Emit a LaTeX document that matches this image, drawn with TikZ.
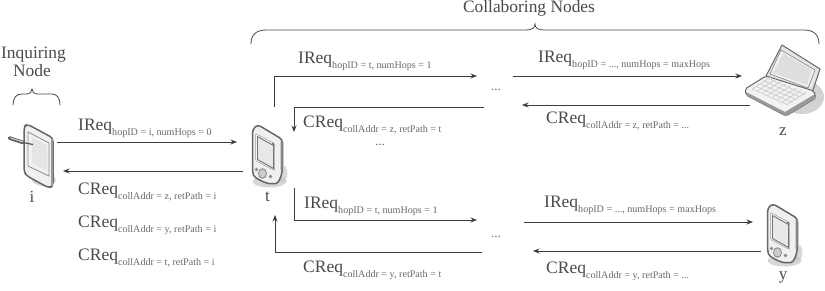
\documentclass[tikz,border=0pt]{standalone}
\usepackage{fontspec}
\setmainfont{Liberation Serif}
\usetikzlibrary{arrows.meta,calc}
\definecolor{ink}{HTML}{4A4A4A}
\definecolor{subink}{HTML}{6A6A6A}
\definecolor{wire}{HTML}{3C3C3C}
\newcommand{\msg}[3]{{\fontsize{17.5}{19}\selectfont #1}\raisebox{-5pt}{\fontsize{10.1}{12}\selectfont\color{subink} #2, #3}}
\tikzset{
  x=1pt,y=-1pt,
  wirepath/.style={draw=wire,line width=0.9pt,-{Stealth[length=6.5pt,width=5pt]}},
  msglabel/.style={anchor=base west,inner sep=0pt,text=ink},
  devlabel/.style={anchor=center,inner sep=0pt,text=ink,font=\fontsize{17}{19}\selectfont},
  headlabel/.style={anchor=base,inner sep=0pt,text=ink,font=\fontsize{17.4}{19}\selectfont},
  dots/.style={anchor=center,inner sep=0pt,text=subink,font=\fontsize{13}{14}\selectfont},
  bracket/.style={draw=ink,line width=0.8pt,line cap=round},
  casing/.style={draw=black!60,line width=1.5pt,fill=black!6,rounded corners=3.5pt,line join=round},
  softshadow/.style={fill=black!22,draw=none},
  pics/handheld/.style={code={
    % drop shadow behind the lower right corner
    \fill[softshadow,opacity=.7] (17,57) ellipse[x radius=17,y radius=6];
    \fill[softshadow,opacity=.7] (29,49) ellipse[x radius=6,y radius=9];
    % casing
    \draw[casing] (0,5) -- (5,0) -- (30,15) -- (30,43) .. controls (29,52) and (26,59) .. (20,59)
       .. controls (14,59) and (2,54) .. (0,47) -- cycle;
    \fill[black!45] (28,17) -- (30,15) -- (30,43) -- (28,46) -- cycle;
    \draw[draw=black!40,fill=black!3,line width=.5pt,rounded corners=1pt] (3,9) -- (22,19) -- (22,46) -- (3,36) -- cycle;
    \draw[draw=black!55,fill=black!9,line width=.9pt] (5,12) -- (21,21) -- (21,44) -- (5,35) -- cycle;
    \fill[black!55] (20.5,19.5) circle[radius=1.3];
    % keys
    \draw[draw=black!55,fill=black!20,line width=.6pt] (10,49) ellipse[x radius=4,y radius=4.8];
    \fill[black!45] (4,45) circle[radius=1.8];
    \fill[black!45] (18,52) circle[radius=1.8];
  }},
  pics/stylustablet/.style={code={
    \fill[softshadow,opacity=.7] (20,56) ellipse[x radius=12,y radius=6];
    \draw[casing] (0,3) -- (3,0) -- (29,14) -- (29,62) -- (25,64) -- (3,52) -- (0,48) -- cycle;
    \fill[black!40] (27,16) -- (29,14) -- (29,62) -- (27,62) -- cycle;
    \draw[draw=black!45,fill=black!5,line width=.8pt] (4,8) -- (25,19) -- (25,52) -- (4,42) -- cycle;
    \fill[black!10] (8,13) -- (23,21) -- (23,47) -- (8,39) -- cycle;
    % stylus resting on the screen
    \draw[black!65,line width=3.6pt,line cap=round] (-14.5,14) -- (-1,18.5);
    \draw[black!22,line width=1.2pt,line cap=round] (-13.5,14) -- (-1,18);
    \draw[black!65,line width=1.2pt] (-1,18.5) -- (9,20.5);
  }},
  pics/notebook/.style={code={
    % origin at the top corner of the lid
    \fill[softshadow,opacity=.8] (20,52) ellipse[x radius=22,y radius=17];
    % lid
    \draw[draw=black!60,fill=black!10,line width=1pt,line join=round] (0,0) -- (38,24) -- (30,48) -- (-16,31) -- cycle;
    \draw[draw=black!50,fill=black!5,line width=.6pt] (-1,5) -- (33,25) -- (26,43) -- (-12,29) -- cycle;
    \fill[black!13] (1,8) -- (30,25) -- (25,40) -- (-9,28) -- cycle;
    % base and keyboard
    \draw[draw=black!60,fill=black!5,line width=1pt,rounded corners=2pt,line join=round]
      (-16,31) -- (-37,44) -- (-36,50) -- (4,71) -- (34,53) -- (32,46) -- cycle;
    \fill[black!40] (-36,47) -- (3,67) -- (33,49) -- (34,53) -- (4,71) -- (-36,50) -- cycle;
    \foreach \r in {0,...,4}{
      \draw[black!20,line width=.7pt] ($(-30,44)+(\r*4.2,-\r*2.6)$) -- ($(-30,44)+(\r*4.2,-\r*2.6)+(36,16)$);
    }
    \foreach \c in {0,...,7}{
      \draw[black!20,line width=.7pt] ($(-30,44)+(\c*5,\c*2.2)$) -- ($(-30,44)+(\c*5,\c*2.2)+(19,-12)$);
    }
  }}
}
\begin{document}
\begin{tikzpicture}
\useasboundingbox (0,0) rectangle (825,290);
\clip (0,0) rectangle (825,290);
\fill[white] (0,0) rectangle (825,290);

% devices
\pic at (24,124) {stylustablet};
\pic at (252.5,124.5) {handheld};
\pic at (767.5,203.5) {handheld};
\pic at (782,45) {notebook};

% device names
\node[devlabel] (nodei) at (32,197) {i};
\node[devlabel] (nodet) at (267.5,197) {t};
\node[devlabel] (nodez) at (783,132) {z};
\node[devlabel] (nodey) at (783,277) {y};

% headings and braces
\node[headlabel] (inq1) at (33.5,58) {Inquiring};
\node[headlabel] (inq2) at (32,76) {Node};
\node[headlabel] (collab) at (529,12) {Collaboring Nodes};
\draw[bracket] (13,105) .. controls (13,98) and (16,94) .. (22,94) -- (27,94)
   .. controls (30,94) and (32,92) .. (32,89) .. controls (32,92) and (34,94) .. (37,94) -- (52,94)
   .. controls (57,94) and (60,98) .. (60,105);
\draw[bracket] (251,44) .. controls (251,35) and (256,30) .. (266,30) -- (526,30)
   .. controls (532,30) and (535,28) .. (535,24) .. controls (535,28) and (538,30) .. (544,30) -- (804,30)
   .. controls (814,30) and (819,35) .. (819,44);

% connector end points
\coordinate (iOut) at (57,142);   \coordinate (tIn) at (237,142);
\coordinate (tOut) at (243,171);  \coordinate (iIn) at (63,171);
\coordinate (a1) at (274,107);    \coordinate (a2) at (274,76);   \coordinate (a3) at (477,76);
\coordinate (b1) at (484,107);    \coordinate (b2) at (294,107);  \coordinate (b3) at (294,132);
\coordinate (c1) at (294,188);    \coordinate (c2) at (294,220);  \coordinate (c3) at (477,220);
\coordinate (d1) at (482,252);    \coordinate (d2) at (275,252);  \coordinate (d3) at (275,215);
\coordinate (e1) at (513,76);     \coordinate (e2) at (742,76);
\coordinate (f1) at (750,105);    \coordinate (f2) at (522,105);
\coordinate (g1) at (524,222);    \coordinate (g2) at (753,222);
\coordinate (h1) at (761,251);    \coordinate (h2) at (533,251);

% message arrows
\draw[wirepath] (iOut) -- (tIn);
\draw[wirepath] (tOut) -- (iIn);
\draw[wirepath] (a1) -- (a2) -- (a3);
\draw[wirepath] (b1) -- (b2) -- (b3);
\draw[wirepath] (c1) -- (c2) -- (c3);
\draw[wirepath] (d1) -- (d2) -- (d3);
\draw[wirepath] (e1) -- (e2);
\draw[wirepath] (f1) -- (f2);
\draw[wirepath] (g1) -- (g2);
\draw[wirepath] (h1) -- (h2);

% message labels
\node[msglabel] (m1) at (78,130) {\msg{IReq}{hopID = i}{numHops = 0}};
\node[msglabel] (m2) at (78,194) {\msg{CReq}{collAddr = z}{retPath = i}};
\node[msglabel] (m3) at (78,227) {\msg{CReq}{collAddr = y}{retPath = i}};
\node[msglabel] (m4) at (78,260) {\msg{CReq}{collAddr = t}{retPath = i}};
\node[msglabel] (m5) at (298,63) {\msg{IReq}{hopID = t}{numHops = 1}};
\node[msglabel] (m6) at (303,127) {\msg{CReq}{collAddr = z}{retPath = t}};
\node[msglabel] (m7) at (304,208) {\msg{IReq}{hopID = t}{numHops = 1}};
\node[msglabel] (m8) at (303,272) {\msg{CReq}{collAddr = y}{retPath = t}};
\node[msglabel] (m9) at (538,62) {\msg{IReq}{hopID = ...}{numHops = maxHops}};
\node[msglabel] (m10) at (546,123) {\msg{CReq}{collAddr = z}{retPath = ...}};
\node[msglabel] (m11) at (544,207) {\msg{IReq}{hopID = ...}{numHops = maxHops}};
\node[msglabel] (m12) at (546,273) {\msg{CReq}{collAddr = y}{retPath = ...}};

% elided hops
\node[dots] (d1n) at (496,90) {...};
\node[dots] (d2n) at (380,145) {...};
\node[dots] (d3n) at (496,237) {...};
\end{tikzpicture}
\end{document}
